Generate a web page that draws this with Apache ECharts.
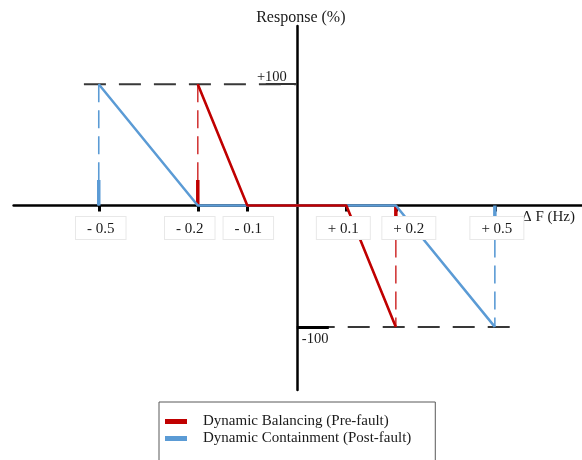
<!DOCTYPE html>
<html>
<head>
<meta charset="utf-8">
<script src="https://cdn.jsdelivr.net/npm/echarts@6/dist/echarts.min.js"></script>
<style>
  html, body { margin: 0; padding: 0; background: #fff; }
  #chart { width: 582px; height: 460px; }
</style>
</head>
<body>
<div id="chart"></div>
<script>
// ---- data ----
const seriesNames = ['Dynamic Balancing (Pre-fault)', 'Dynamic Containment (Post-fault)'];
const balHz   = [-0.2, -0.1, 0.1, 0.2];
const balResp = [100, 0, 0, -100];
const conHz   = [-0.5, -0.2, 0.2, 0.5];
const conResp = [100, 0, 0, -100];
const tickHz   = [-0.5, -0.2, -0.1, 0.1, 0.2, 0.5];
const tickText = ['- 0.5', '- 0.2', '- 0.1', '+ 0.1', '+ 0.2', '+ 0.5'];
const yLevels    = [100, -100];
const yLevelText = ['+100', '-100'];
const xName = 'Δ F (Hz)';
const yName = 'Response (%)';

// ---- schematic (not-to-scale) frequency axis ----
const tickSlot = [-4, -2, -1, 1, 2, 4];
function slot(hz) { if (hz === 0) return 0; return tickSlot[tickHz.indexOf(hz)]; }

// ---- layout / styles ----
const X_MIN = -5.72, X_MAX = 5.76, Y_MIN = -152, Y_MAX = 148;
const GRID = { left: 13.6, right: 0, top: 26, bottom: 70 };
const W = 582, H = 460;
const plotW = W - GRID.left - GRID.right, plotH = H - GRID.top - GRID.bottom;
const zeroFromLeft = (0 - X_MIN) / (X_MAX - X_MIN) * plotW;
const zeroFromBottom = (0 - Y_MIN) / (Y_MAX - Y_MIN) * plotH;

const RED = '#c00000', BLUE = '#5b9bd5', FONT = 'Liberation Serif', TXT = '#1a1a1a';
const labelShift = [2, -8, 1, -3, 13, 2];
const guideOvershoot = 0.3;
const stubLen = 21;

const rich = { t: { fontFamily: FONT, fontSize: 15, color: TXT, backgroundColor: '#fff',
  borderColor: '#e8e8e8', borderWidth: 1, padding: [4, 11, 3, 11], lineHeight: 15 } };
labelShift.forEach(d => { rich['s' + Math.abs(d) * 2] = { width: Math.abs(d) * 2 }; });

function seg(name, pts, lineStyle, z) {
  return { type: 'line', name, data: pts, symbol: 'none', silent: true, lineStyle, z, animation: false };
}

const series = [];
const hLeft = slot(conHz[0]) - guideOvershoot;
const hRight = slot(conHz[conHz.length - 1]) + guideOvershoot;
series.push(seg('g-h1', [[hLeft, yLevels[0]], [0, yLevels[0]]], { color: '#383838', width: 2, type: [22, 13] }, 1));
series.push(seg('g-h2', [[hRight, yLevels[1]], [0, yLevels[1]]], { color: '#383838', width: 2, type: [22, 13] }, 1));

[[balHz, balResp, RED, '#d23a3a'], [conHz, conResp, BLUE, BLUE]].forEach(([hz, resp, col, dcol], k) => {
  const x0 = slot(hz[0]), x1 = slot(hz[hz.length - 1]);
  const y0 = resp[0], y1 = resp[resp.length - 1];
  series.push(seg('g-v' + k + 'a', [[x0, y0], [x0, 0]], { color: dcol, width: 1.6, type: [18, 8] }, 2));
  series.push(seg('g-v' + k + 'b', [[x1, 0], [x1, y1]], { color: dcol, width: 1.6, type: [18, 8], dashOffset: 18 }, 2));
  series.push(seg('g-s' + k + 'a', [[x0, 0], [x0, Math.sign(y0) * stubLen]], { color: col, width: 3.5 }, 3));
  series.push(seg('g-s' + k + 'b', [[x1, 0], [x1, Math.sign(y1) * stubLen]], { color: col, width: 3.5 }, 3));
});

series.push({ type: 'line', name: seriesNames[1], data: conHz.map((h, i) => [slot(h), conResp[i]]),
  symbol: 'none', color: BLUE, itemStyle: { color: BLUE }, lineStyle: { color: BLUE, width: 2.5 }, z: 4, animation: false });
series.push({ type: 'line', name: seriesNames[0], data: balHz.map((h, i) => [slot(h), balResp[i]]),
  symbol: 'none', color: RED, itemStyle: { color: RED }, lineStyle: { color: RED, width: 2.6 }, z: 5, animation: false });

const chart = echarts.init(document.getElementById('chart'), null, { renderer: 'canvas' });
chart.setOption({
  animation: false,
  backgroundColor: '#fff',
  grid: Object.assign({ containLabel: false, outerBoundsMode: 'none' }, GRID),
  legend: {
    data: seriesNames, orient: 'vertical', left: 159, top: 402, height: 120,
    padding: [12, 24, 30, 6], itemGap: 2, itemWidth: 22, itemHeight: 5, icon: 'rect',
    borderColor: '#595959', borderWidth: 1, backgroundColor: '#fff',
    textStyle: { fontFamily: FONT, fontSize: 15, color: TXT, padding: [0, 0, 0, 11] },
    selectedMode: false
  },
  xAxis: [
    { type: 'value', min: X_MIN, max: X_MAX, position: 'bottom',
      name: xName, nameLocation: 'end', nameGap: -60, nameMoveOverlap: false,
      nameTextStyle: { fontFamily: FONT, fontSize: 15, color: TXT, verticalAlign: 'top', padding: [4, 0, 0, 0] },
      axisLine: { show: true, onZero: true, onZeroAxisIndex: 0, lineStyle: { color: '#000', width: 2.5 } },
      axisTick: { show: true, customValues: tickSlot, length: 6, lineStyle: { color: '#000', width: 3 } },
      axisLabel: { show: false }, splitLine: { show: false }, z: 0 },
    { type: 'value', min: X_MIN, max: X_MAX, position: 'bottom', offset: -zeroFromBottom,
      axisLine: { show: false, onZero: false },
      axisTick: { show: false }, splitLine: { show: false },
      axisLabel: { show: true, customValues: tickSlot, margin: 15, rich,
        formatter: (v) => {
          const i = tickSlot.indexOf(v);
          if (i < 0) return '';
          const d = labelShift[i];
          const sp = '{s' + Math.abs(d) * 2 + '|}';
          const t = '{t|' + tickText[i] + '}';
          return d >= 0 ? sp + t : t + sp;
        } },
      z: 10 }
  ],
  yAxis: [
    { type: 'value', min: Y_MIN, max: Y_MAX, position: 'left',
      name: yName, nameLocation: 'end', nameGap: 0,
      nameTextStyle: { fontFamily: FONT, fontSize: 16, color: TXT, padding: [0, 0, 0, 8] },
      axisLine: { show: true, onZero: true, onZeroAxisIndex: 0, lineStyle: { color: '#000', width: 2.5 } },
      axisTick: { show: true, customValues: [yLevels[0]], length: 31, lineStyle: { color: '#333', width: 2 } },
      axisLabel: { show: false },
      splitLine: { show: false }, z: 0 },
    { type: 'value', min: Y_MIN, max: Y_MAX, position: 'left', offset: -zeroFromLeft,
      axisLine: { show: false, onZero: false },
      axisTick: { show: false },
      axisLabel: { show: true, customValues: [yLevels[0]], margin: 10,
        formatter: () => '{p|' + yLevelText[0] + '}',
        rich: { p: { fontFamily: FONT, fontSize: 14.5, color: TXT, lineHeight: 14, padding: [0, 0, 15, 0] } } },
      splitLine: { show: false }, z: 10 },
    { type: 'value', min: Y_MIN, max: Y_MAX, position: 'left', offset: -zeroFromLeft,
      axisLine: { show: false, onZero: false },
      axisTick: { show: true, inside: true, customValues: [yLevels[1]], length: 32, lineStyle: { color: '#000', width: 3 } },
      axisLabel: { show: true, inside: true, customValues: [yLevels[1]], margin: 5,
        formatter: () => '{n|' + yLevelText[1] + '}',
        rich: { n: { fontFamily: FONT, fontSize: 14.5, color: TXT, lineHeight: 14, padding: [25, 0, 0, 0] } } },
      splitLine: { show: false }, z: 10 }
  ],
  series
});
</script>
</body>
</html>
